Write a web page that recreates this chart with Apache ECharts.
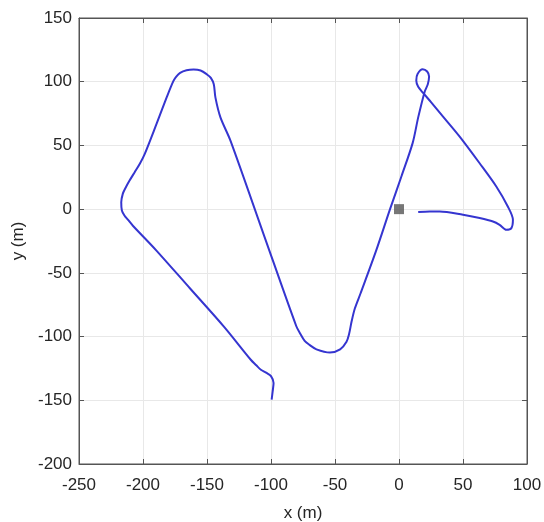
<!DOCTYPE html>
<html><head><meta charset="utf-8">
<script src="https://cdn.jsdelivr.net/npm/echarts@6/dist/echarts.min.js"></script>
<style>html,body{margin:0;padding:0;background:#fff}#c{width:544px;height:522px}</style>
</head><body><div id="c"></div>
<script>
// Trajectory (m), in drawing order
const pathX = [15, 24, 31.8, 50, 63, 73.4, 78.6, 83.9, 87.8, 89, 85, 76, 63, 47.4, 34.4, 25, 19, 15, 13.5, 14.5, 18.5, 22, 23.5, 22.5, 20, 15, 10.7, 2, -7, -18, -30, -34.5, -37, -39, -41, -46, -54, -64.5, -70, -73.7, -77, -80.3, -105, -131.6, -139.5, -143.4, -144.7, -147, -150, -155, -160.5, -166, -171, -174, -176.3, -181.6, -189.5, -198.7, -202.6, -206.5, -210.5, -214, -215.8, -217, -216.5, -214.5, -212, -207.9, -189.5, -163.2, -136.8, -115.8, -111.5, -107.9, -103.5, -100, -98, -98.7, -99.5];
const pathY = [-2.3, -1.8, -1.8, -4.4, -7, -9.7, -12.3, -16.2, -14.9, -8.4, 2.1, 17.8, 36, 56.9, 72.6, 84, 91, 96, 101, 106, 109.7, 108, 104, 98, 92, 72, 52, 26, 0, -33, -66, -78, -88, -98, -104, -110, -112.5, -110, -106.5, -103.4, -98, -91.7, -21.9, 53.6, 72, 87.5, 98, 103, 105.7, 108.8, 109.6, 109, 107, 104, 100.5, 87.5, 66.7, 43.2, 35.4, 29, 22.4, 16, 12, 5.5, -1, -5, -8, -13, -32.5, -62.3, -92.2, -118.2, -122.5, -126, -128.5, -131, -136.4, -143, -149.5];
const originX = [0];
const originY = [0];
const xTicks = {min: -250, max: 100, step: 50};
const yTicks = {min: -200, max: 150, step: 50};

const pts = pathX.map((x, i) => [x, pathY[i]]);
const org = originX.map((x, i) => [x, originY[i]]);
const font = 'Liberation Sans, Arial, sans-serif';
const lab = {color: '#262626', fontSize: 17, fontFamily: font};
const axisCol = '#555555';
const chart = echarts.init(document.getElementById('c'));
chart.setOption({
  animation: false,
  grid: {left: 79, right: 17, top: 18, bottom: 58, show: true, borderColor: axisCol, borderWidth: 1,
         containLabel: false, outerBoundsMode: 'none'},
  xAxis: [{
    type: 'value', min: xTicks.min, max: xTicks.max, interval: xTicks.step,
    name: 'x (m)', nameLocation: 'middle', nameGap: 41, nameTextStyle: lab,
    axisLine: {show: true, onZero: false, lineStyle: {color: axisCol}},
    axisTick: {show: true, inside: true, length: 5, lineStyle: {color: axisCol}},
    axisLabel: Object.assign({margin: 13}, lab),
    splitLine: {show: true, lineStyle: {color: '#e8e8e8'}}
  }, {
    type: 'value', position: 'top', min: xTicks.min, max: xTicks.max, interval: xTicks.step,
    axisLine: {show: true, onZero: false, lineStyle: {color: axisCol}},
    axisTick: {show: true, inside: true, length: 5, lineStyle: {color: axisCol}},
    axisLabel: {show: false}, splitLine: {show: false}
  }],
  yAxis: [{
    type: 'value', min: yTicks.min, max: yTicks.max, interval: yTicks.step,
    name: 'y (m)', nameLocation: 'middle', nameGap: 48, nameTextStyle: lab,
    axisLine: {show: true, onZero: false, lineStyle: {color: axisCol}},
    axisTick: {show: true, inside: true, length: 5, lineStyle: {color: axisCol}},
    axisLabel: Object.assign({margin: 7}, lab),
    splitLine: {show: true, lineStyle: {color: '#e8e8e8'}}
  }, {
    type: 'value', position: 'right', min: yTicks.min, max: yTicks.max, interval: yTicks.step,
    axisLine: {show: true, onZero: false, lineStyle: {color: axisCol}},
    axisTick: {show: true, inside: true, length: 5, lineStyle: {color: axisCol}},
    axisLabel: {show: false}, splitLine: {show: false}
  }],
  series: [{
    type: 'line', data: pts, showSymbol: false, smooth: 0.3,
    lineStyle: {color: '#3535d0', width: 2}
  }, {
    type: 'scatter', data: org, symbol: 'rect', symbolSize: 10,
    itemStyle: {color: '#555555'}
  }]
});
</script></body></html>
